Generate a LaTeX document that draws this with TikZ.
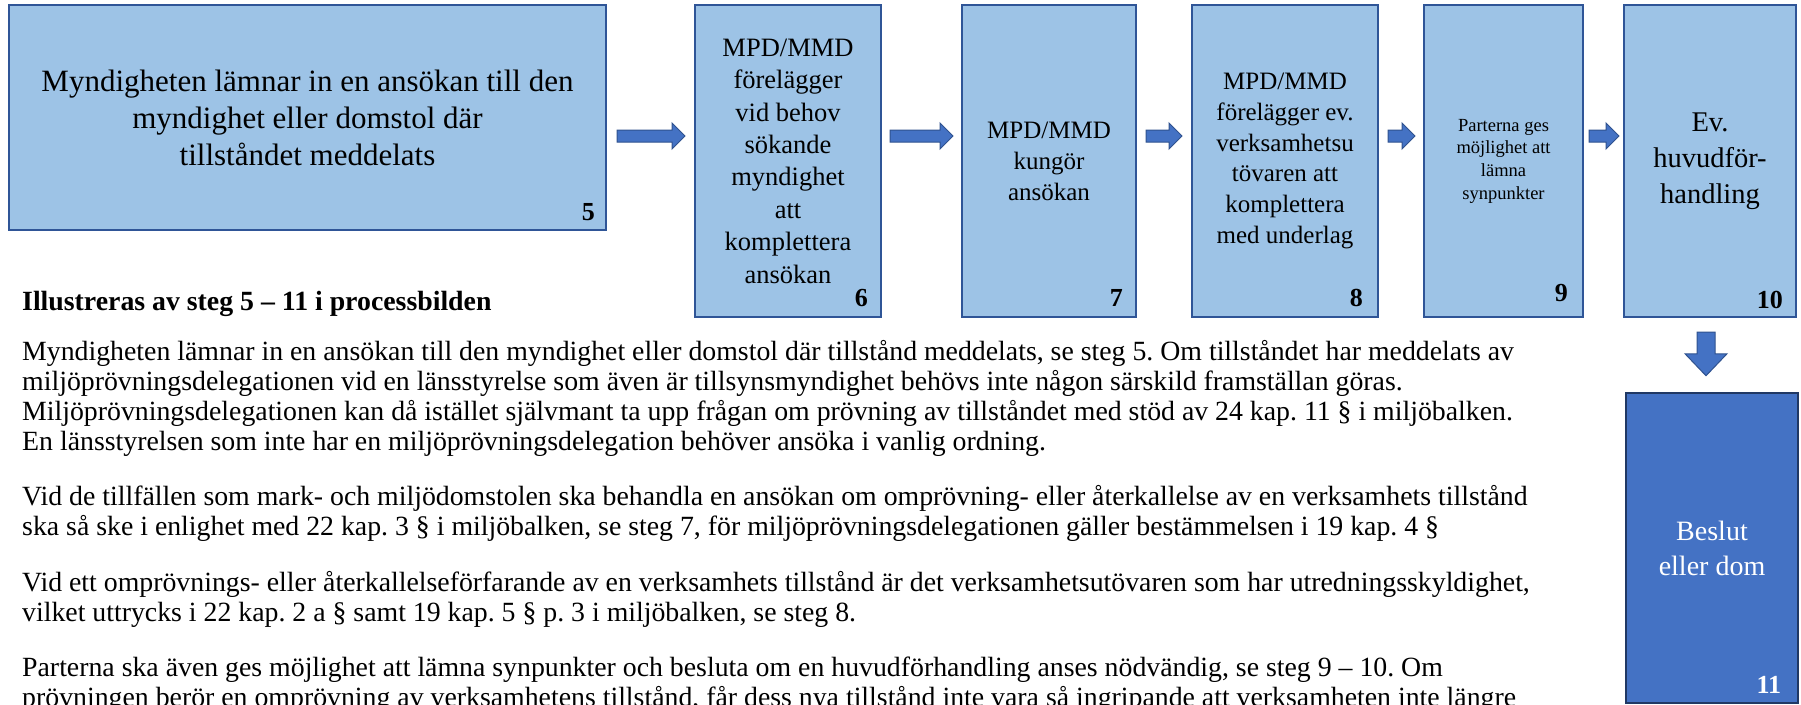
\documentclass[tikz,border=0pt]{standalone}
\usepackage{fontspec}
\setmainfont{Liberation Serif}
\usetikzlibrary{calc}
\frenchspacing

\definecolor{boxfill}{HTML}{9DC3E6}
\definecolor{boxedge}{HTML}{2F5597}
\definecolor{arrowfill}{HTML}{4472C4}
\definecolor{arrowedge}{HTML}{2F528F}
\definecolor{endedge}{HTML}{203864}

\tikzset{
  stepbox/.style={draw=boxedge, fill=boxfill, line width=2pt, align=center, inner sep=0pt},
  endbox/.style={draw=endedge, fill=arrowfill, line width=2.5pt, align=center, inner sep=0pt, text=white},
  stepno/.style={font=\fontsize{26}{26}\selectfont\bfseries, inner sep=0pt, anchor=base east},
  bodyline/.style={font=\fontsize{27.8}{30}\selectfont, inner sep=0pt, anchor=base west},
  flow/.style={fill=arrowfill, draw=arrowedge, line width=1pt, line join=miter,
    to path={let \p1=(\tikztostart), \p2=(\tikztotarget) in
      (\x1,\y1+6pt) -- (\x2-13pt,\y1+6pt) -- (\x2-13pt,\y1+13pt) -- (\x2,\y1)
      -- (\x2-13pt,\y1-13pt) -- (\x2-13pt,\y1-6pt) -- (\x1,\y1-6pt) -- cycle}},
  downflow/.style={fill=arrowfill, draw=arrowedge, line width=1pt, line join=miter,
    to path={let \p1=(\tikztostart), \p2=(\tikztotarget) in
      (\x1-9pt,\y1) -- (\x1-9pt,\y2+22pt) -- (\x1-21pt,\y2+22pt) -- (\x1,\y2)
      -- (\x1+21pt,\y2+22pt) -- (\x1+9pt,\y2+22pt) -- (\x1+9pt,\y1) -- cycle}}
}

\begin{document}
\begin{tikzpicture}[x=1pt, y=-1pt]
      \useasboundingbox (0,0) rectangle (1801,704);
      \clip (0,0) rectangle (1801,704);

      % process steps
      \node[stepbox, minimum width=597, minimum height=225, font=\fontsize{31}{37}\selectfont] (b5) at (307.5,117.5)
        {Myndigheten lämnar in en ansökan till den\\myndighet eller domstol där\\tillståndet meddelats};
      \node[stepbox, minimum width=186, minimum height=312, font=\fontsize{26.5}{32.4}\selectfont] (b6) at (788,161)
        {MPD/MMD\\förelägger\\vid behov\\sökande\\myndighet\\att\\komplettera\\ansökan};
      \node[stepbox, minimum width=174, minimum height=312, font=\fontsize{25}{31}\selectfont] (b7) at (1049,161)
        {MPD/MMD\\kungör\\ansökan};
      \node[stepbox, minimum width=186, minimum height=312, font=\fontsize{25}{30.8}\selectfont] (b8) at (1285,161)
        {MPD/MMD\\förelägger ev.\\verksamhetsu\\tövaren att\\komplettera\\med underlag};
      \node[stepbox, minimum width=159, minimum height=312, font=\fontsize{18.5}{22.7}\selectfont] (b9) at (1503.5,161)
        {Parterna ges\\möjlighet att\\lämna\\synpunkter};
      \node[stepbox, minimum width=172, minimum height=312, font=\fontsize{28.5}{36}\selectfont] (b10) at (1710,161)
        {Ev.\\huvudför-\\handling};
      \node[endbox, minimum width=172, minimum height=310, font=\fontsize{28}{35}\selectfont] (b11) at (1712,548)
        {Beslut\\eller dom};

      % step numbers
      \node[stepno] (n5) at ($(b5.south east)+(-12,-11)$) {5};
      \node[stepno] (n6) at ($(b6.south east)+(-14,-12)$) {6};
      \node[stepno] (n7) at ($(b7.south east)+(-14,-12)$) {7};
      \node[stepno] (n8) at ($(b8.south east)+(-16,-12)$) {8};
      \node[stepno] (n9) at ($(b9.south east)+(-16,-17)$) {9};
      \node[stepno] (n10) at ($(b10.south east)+(-14,-10)$) {10};
      \node[stepno, text=white] (n11) at ($(b11.south east)+(-18,-11)$) {11};

      % arrows
      \coordinate (row) at (0,136);
      \draw[flow] ($(b5.east |- row)+(10,0)$) to ($(b6.west |- row)+(-9,0)$);
      \draw[flow] ($(b6.east |- row)+(8,0)$) to ($(b7.west |- row)+(-8,0)$);
      \draw[flow] ($(b7.east |- row)+(9,0)$) to ($(b8.west |- row)+(-9,0)$);
      \draw[flow] ($(b8.east |- row)+(9,0)$) to ($(b9.west |- row)+(-8,0)$);
      \draw[flow] ($(b9.east |- row)+(5,0)$) to ($(b10.west |- row)+(-4,0)$);
      \draw[downflow] ($(b10.south)+(-4,14)$) to ($(b11.north)+(-6,-16)$);

      % text below
      \node[bodyline, font=\fontsize{27.8}{30}\selectfont\bfseries] (head) at (22,310) {Illustreras av steg 5 – 11 i processbilden};
      \node[bodyline] (p1a) at (22,360) {Myndigheten lämnar in en ansökan till den myndighet eller domstol där tillstånd meddelats, se steg 5. Om tillståndet har meddelats av};
      \node[bodyline] (p1b) at (22,390) {miljöprövningsdelegationen vid en länsstyrelse som även är tillsynsmyndighet behövs inte någon särskild framställan göras.};
      \node[bodyline] (p1c) at (22,420) {Miljöprövningsdelegationen kan då istället självmant ta upp frågan om prövning av tillståndet med stöd av 24 kap. 11 § i miljöbalken.};
      \node[bodyline] (p1d) at (22,450) {En länsstyrelsen som inte har en miljöprövningsdelegation behöver ansöka i vanlig ordning.};
      \node[bodyline] (p2a) at (22,505.5) {Vid de tillfällen som mark- och miljödomstolen ska behandla en ansökan om omprövning- eller återkallelse av en verksamhets tillstånd};
      \node[bodyline] (p2b) at (22,535.5) {ska så ske i enlighet med 22 kap. 3 § i miljöbalken, se steg 7, för miljöprövningsdelegationen gäller bestämmelsen i 19 kap. 4 §};
      \node[bodyline] (p3a) at (22,591) {Vid ett omprövnings- eller återkallelseförfarande av en verksamhets tillstånd är det verksamhetsutövaren som har utredningsskyldighet,};
      \node[bodyline] (p3b) at (22,621) {vilket uttrycks i 22 kap. 2 a § samt 19 kap. 5 § p. 3 i miljöbalken, se steg 8.};
      \node[bodyline] (p4a) at (22,676.5) {Parterna ska även ges möjlighet att lämna synpunkter och besluta om en huvudförhandling anses nödvändig, se steg 9 – 10. Om};
      \node[bodyline] (p4b) at (22,706.5) {prövningen berör en omprövning av verksamhetens tillstånd, får dess nya tillstånd inte vara så ingripande att verksamheten inte längre};
\end{tikzpicture}
\end{document}
